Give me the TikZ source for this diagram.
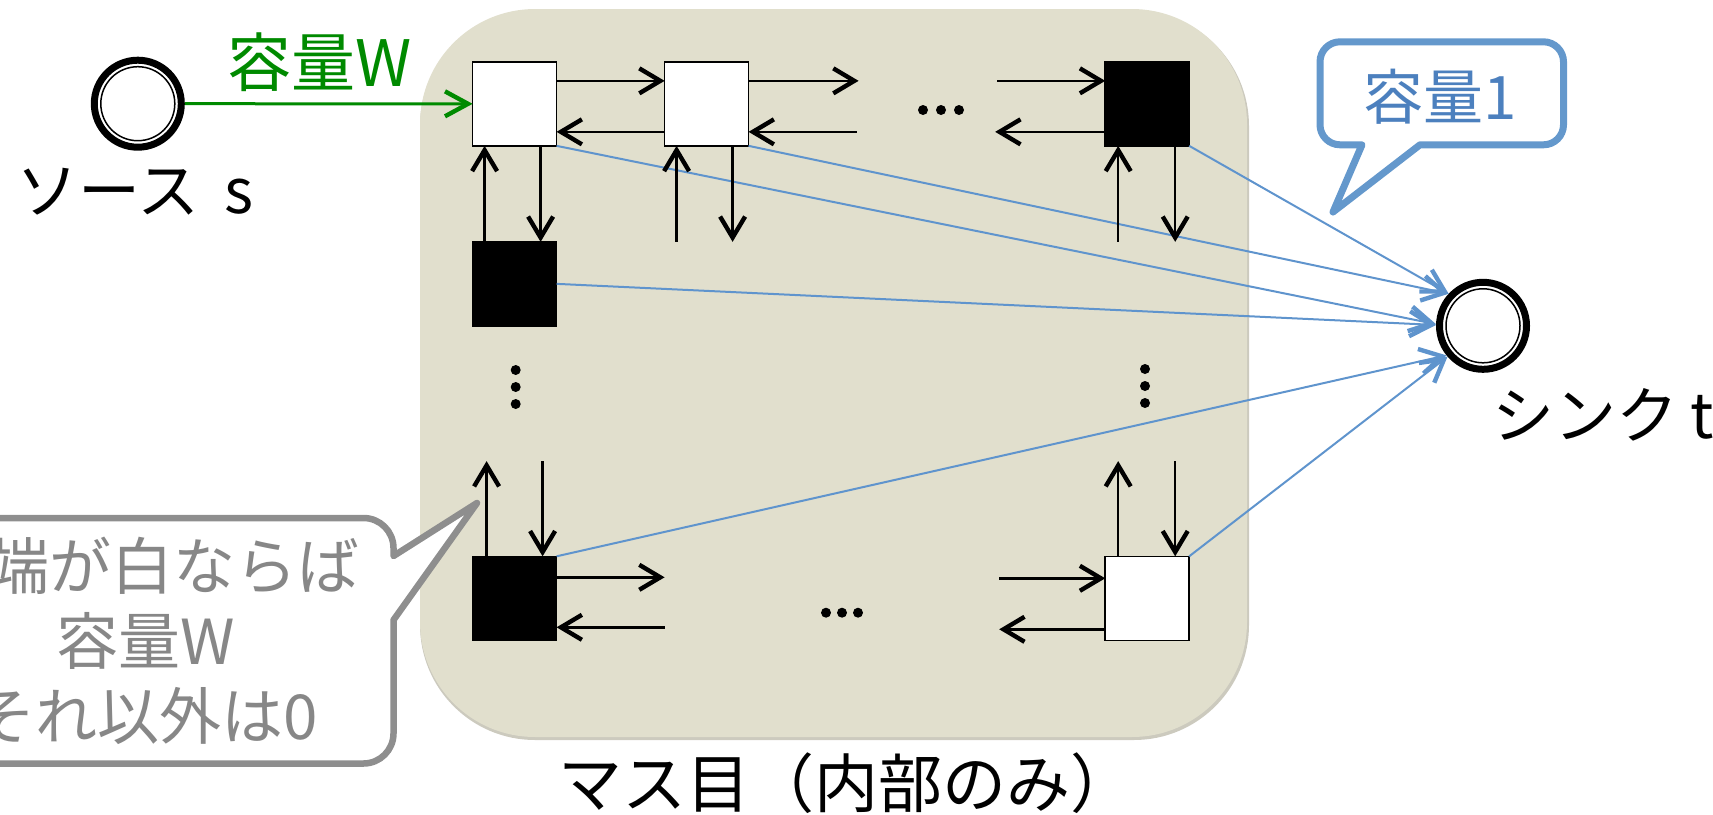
\documentclass[tikz,border=0pt]{standalone}
\usepackage{fontspec}
\setmainfont{Noto Sans CJK JP}
\usetikzlibrary{arrows.meta,calc}
\definecolor{bgbeige}{RGB}{225,223,205}
\definecolor{bgshadow}{RGB}{204,202,190}
\definecolor{flowblue}{RGB}{95,148,205}
\definecolor{calloutblue}{RGB}{100,152,204}
\definecolor{textblue}{RGB}{76,128,190}
\definecolor{srcgreen}{RGB}{0,138,0}
\definecolor{notegray}{RGB}{142,142,142}
\definecolor{notetext}{RGB}{135,135,135}
\begin{document}
\begin{tikzpicture}[x=0.5pt,y=-0.5pt,
  cell/.style={draw=black,line width=0.75pt,minimum size=42pt,inner sep=0pt,outer sep=0pt},
  whitecell/.style={cell,fill=white},
  blackcell/.style={cell,fill=black},
  term/.style={circle,draw=black,line width=3.5pt,fill=white,minimum size=43.5pt,inner sep=0pt},
  lbl/.style={inner sep=0pt,font=\fontsize{31pt}{31pt}\selectfont},
  notelbl/.style={inner sep=0pt,text=notetext,font=\fontsize{31pt}{31pt}\selectfont},
  blkarrow/.style={line width=1.2pt,-{Straight Barb[length=10.5pt,width=12.5pt,line width=2.2pt]}},
  bluearrow/.style={draw=flowblue,line width=1pt,-{Straight Barb[length=11pt,width=12.5pt,line width=2.2pt]}},
  greenarrow/.style={draw=srcgreen,line width=1.5pt,-{Straight Barb[length=11.5pt,width=12.5pt,line width=2.2pt]}},
  dotmark/.style={fill=black}
]
\path[use as bounding box,clip] (0,0) rectangle (1713,814);

% background of the grid
\fill[bgshadow,rounded corners=57.5pt] (420,11) rectangle (1249,740);
\fill[bgbeige,rounded corners=57.5pt] (420,9) rectangle (1247,737);

% grey callout
\draw[notegray,fill=white,line width=3.25pt,line join=round]
  (-60,518) -- (363.5,518) arc[start angle=270,end angle=360,radius=30]
  -- (393.5,556) -- (477,503) -- (393.5,620) -- (393.5,733.5)
  arc[start angle=0,end angle=90,radius=30] -- (-60,763.5) -- cycle;
\node[notelbl,anchor=base east] (note1) at (360,589) {端が白ならば};
\node[notelbl,anchor=base] (note2) at (146,664) {容量W};
\node[notelbl,anchor=base] (note3) at (146,739) {それ以外は0};

% blue callout
\draw[calloutblue,fill=white,line width=3.5pt,line join=round]
  (1340,41.8) -- (1543.5,41.8) arc[start angle=270,end angle=360,radius=20]
  -- (1563.5,124.8) arc[start angle=0,end angle=90,radius=20]
  -- (1420,144.8) -- (1333,212) -- (1362,144.8) -- (1340,144.8)
  arc[start angle=90,end angle=180,radius=20] -- (1320,61.8)
  arc[start angle=180,end angle=270,radius=20] -- cycle;
\node[lbl,text=textblue,font=\fontsize{30pt}{30pt}\selectfont,anchor=base] (cap1) at (1440,119) {容量1};

% source and sink
\node[term] (src) at (137.8,103.7) {};
\draw[line width=0.75pt] (src.center) circle[radius=37];
\node[lbl,anchor=base] (srclabel) at (135,213) {ソース\hspace{0.4em}s};
\node[term] (sink) at (1483,325.8) {};
\draw[line width=0.75pt] (sink.center) circle[radius=37];
\node[lbl,anchor=base west] (sinklabel) at (1492,438) {シンク\hspace{0.2em}t};

% cells
\node[whitecell] (b1) at (514.6,103.85) {};
\node[whitecell] (b2) at (706.6,103.85) {};
\node[blackcell] (b3) at (1147.2,103.85) {};
\node[blackcell] (b4) at (514.6,283.85) {};
\node[blackcell] (b5) at (514.6,598.3) {};
\node[whitecell] (b6) at (1147.2,598.3) {};

% labels
\node[lbl,text=srcgreen,font=\fontsize{32pt}{32pt}\selectfont,anchor=base] (wlabel) at (320,86) {容量W};
\node[lbl,font=\fontsize{32pt}{32pt}\selectfont,anchor=base] (gridlabel) at (846,807) {マス目（内部のみ）};

% source edge
\draw[greenarrow] (src) -- (b1);

% sink edges
\draw[bluearrow] (b3.south east) -- (sink.137);
\draw[bluearrow] (b2.south east) -- (sink.137);
\draw[bluearrow] (b1.south east) -- (sink.178);
\draw[bluearrow] (b4.east) -- (sink.179);
\draw[bluearrow] (b5.north east) -- (sink.219);
\draw[bluearrow] (b6.north east) -- (sink.221);

% free ends
\coordinate (b2ro) at ([xshift=55pt,yshift=11.5pt]b2.east);
\coordinate (b2ri) at ([xshift=54pt,yshift=-14pt]b2.east);
\coordinate (b3li) at ([xshift=-54pt,yshift=11.5pt]b3.west);
\coordinate (b3lo) at ([xshift=-55pt,yshift=-14pt]b3.west);
\coordinate (b2du) at ([xshift=-15pt,yshift=-48pt]b2.south);
\coordinate (b2dd) at ([xshift=13pt,yshift=-48pt]b2.south);
\coordinate (b3du) at ([xshift=-14.5pt,yshift=-48pt]b3.south);
\coordinate (b3dd) at ([xshift=14pt,yshift=-48pt]b3.south);
\coordinate (b5uu) at ([xshift=-14pt,yshift=47.6pt]b5.north);
\coordinate (b5ud) at ([xshift=14pt,yshift=47.6pt]b5.north);
\coordinate (b6uu) at ([xshift=-14.5pt,yshift=47.6pt]b6.north);
\coordinate (b6ud) at ([xshift=14pt,yshift=47.6pt]b6.north);
\coordinate (b5ro) at ([xshift=54pt,yshift=10.5pt]b5.east);
\coordinate (b5ri) at ([xshift=54pt,yshift=-14.5pt]b5.east);
\coordinate (b6li) at ([xshift=-53pt,yshift=10pt]b6.west);
\coordinate (b6lo) at ([xshift=-53pt,yshift=-15.5pt]b6.west);

% grid edges, top row
\draw[blkarrow] ([yshift=11.5pt]b1.east) -- ([yshift=11.5pt]b2.west);
\draw[blkarrow] ([yshift=-14pt]b2.west) -- ([yshift=-14pt]b1.east);
\draw[blkarrow] ([yshift=11.5pt]b2.east) -- (b2ro);
\draw[blkarrow] (b2ri) -- ([yshift=-14pt]b2.east);
\draw[blkarrow] (b3li) -- ([yshift=11.5pt]b3.west);
\draw[blkarrow] ([yshift=-14pt]b3.west) -- (b3lo);
% verticals
\draw[blkarrow] ([xshift=-15pt]b4.north) -- ([xshift=-15pt]b1.south);
\draw[blkarrow] ([xshift=13pt]b1.south) -- ([xshift=13pt]b4.north);
\draw[blkarrow] (b2du) -- ([xshift=-15pt]b2.south);
\draw[blkarrow] ([xshift=13pt]b2.south) -- (b2dd);
\draw[blkarrow] (b3du) -- ([xshift=-14.5pt]b3.south);
\draw[blkarrow] ([xshift=14pt]b3.south) -- (b3dd);
% bottom row
\draw[blkarrow] ([xshift=-14pt]b5.north) -- (b5uu);
\draw[blkarrow] (b5ud) -- ([xshift=14pt]b5.north);
\draw[blkarrow] ([xshift=-14.5pt]b6.north) -- (b6uu);
\draw[blkarrow] (b6ud) -- ([xshift=14pt]b6.north);
\draw[blkarrow] ([yshift=10.5pt]b5.east) -- (b5ro);
\draw[blkarrow] (b5ri) -- ([yshift=-14.5pt]b5.east);
\draw[blkarrow] (b6li) -- ([yshift=10pt]b6.west);
\draw[blkarrow] ([yshift=-15.5pt]b6.west) -- (b6lo);

% ellipsis dots
\foreach \yy in {370,387,404} {
  \fill[dotmark] (515.7,\yy) circle[radius=5];
  \fill[dotmark] (1145,\yy-1) circle[radius=5];
}
\foreach \xx in {923,941,959} { \fill[dotmark] (\xx,110) circle[radius=5]; }
\foreach \xx in {826,842,858} { \fill[dotmark] (\xx,612.7) circle[radius=5]; }
\end{tikzpicture}
\end{document}
